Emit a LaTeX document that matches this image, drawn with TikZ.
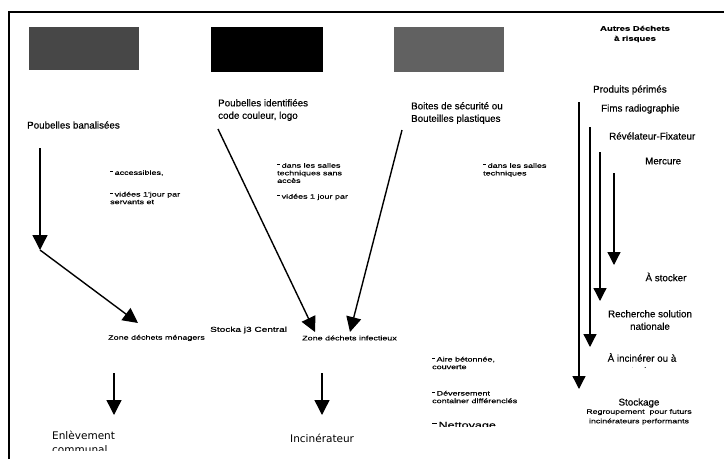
\documentclass[tikz,border=0pt]{standalone}
\usepackage{fontspec}
\usetikzlibrary{arrows.meta}
\setmainfont[FakeBold=0.4]{Liberation Sans}
\newfontfamily\widesans[FakeStretch=1.4, FakeBold=0.4]{Liberation Sans}
\newfontfamily\softsans{DejaVu Sans}
\newcommand{\dsh}{\rule[0.8ex]{0.5em}{1pt}\hspace{0.2em}}

\begin{document}
\begin{tikzpicture}[x=1pt, y=-1pt,
  every node/.style={inner sep=0pt, align=left},
  lbl/.style={font=\fontsize{9.8}{12.5}\selectfont},
  note/.style={font=\widesans\fontsize{6.4}{7.6}\selectfont},
  head/.style={font=\widesans\bfseries\fontsize{6.8}{10}\selectfont, align=center},
  fat/.style={line width=1.4pt, -{Triangle[length=15pt,width=15pt]}},
  thin/.style={line width=1.3pt, -{Triangle[length=13pt,width=13pt]}}]
  \clip (0,0) rectangle (724,459);
  \fill[white] (0,0) rectangle (724,459);
  % frame
  \draw[line width=1.2pt] (9,459) -- (9,12) -- (724,12);
  % bin pictures
  \fill[black!72] (29,27) rectangle (139,70);
  \fill[black] (211,27) rectangle (323,72);
  \fill[black!62] (394,27) rectangle (504,72);
  % bins
  \node[lbl, anchor=west] (banal) at (27,125) {Poubelles banalisées};
  \node[lbl, anchor=west] (ident) at (218,110) {Poubelles identifiées\\code couleur, logo};
  \node[lbl, anchor=west] (boites) at (411,113) {Boites de sécurité ou\\Bouteilles plastiques};
  \node[head] (autres) at (635,34) {Autres Déchets\\à risques};
  % notes
  \node[note, anchor=west] (acc) at (110,173) {\dsh accessibles,};
  \node[note, anchor=west] (vid1) at (110,198) {\dsh vidées 1'jour par\\servants et};
  \node[note, anchor=west] (tech1) at (277,173) {\dsh dans les salles\\techniques sans\\accès};
  \node[note, anchor=west] (vid2) at (277,197) {\dsh vidées 1 jour par};
  \node[note, anchor=west] (tech2) at (483,170) {\dsh dans les salles\\techniques};
  % central storage
  \node[font=\widesans\fontsize{7.2}{9}\selectfont, anchor=west] (central) at (210,330) {Stocka j3 Central};
  \node[note, anchor=west] (menag) at (108,338) {Zone déchets ménagers};
  \node[note, anchor=west] (infect) at (302,338) {Zone déchets infectieux};
  \node[note, anchor=west] (aire) at (432,363) {\dsh Aire bétonnée,\\couverte};
  \node[note, anchor=west] (dever) at (432,397) {\dsh Déversement\\container différenciés};
  \begin{scope}
    \clip (420,400) rectangle (520,426);
    \node[font=\widesans\fontsize{9}{11}\selectfont, anchor=west] (nett) at (432,426) {\dsh Nettoyage};
  \end{scope}
  % outlets
  \begin{scope}
    \clip (30,420) rectangle (200,450);
    \node[font=\softsans\fontsize{10.5}{13.5}\selectfont, anchor=north west] (enlev) at (52,431) {Enlèvement\\communal};
  \end{scope}
  \node[font=\softsans\fontsize{10.5}{13.5}\selectfont, anchor=west] (incin) at (290,438) {Incinérateur};
  % other risks
  \node[lbl, anchor=west] (perim) at (593,90) {Produits périmés};
  \node[lbl, anchor=west] (films) at (601,109) {Fims radiographie};
  \node[lbl, anchor=west] (revel) at (609,136) {Révélateur-Fixateur};
  \node[lbl, anchor=west] (merc) at (645,161) {Mercure};
  \node[lbl] (astock) at (666,277) {À stocker};
  \node[lbl, align=center] (rech) at (650,320) {Recherche solution\\nationale};
  \begin{scope}
    \clip (590,350) rectangle (710,367);
    \node[lbl, align=center, anchor=north] (ainc) at (642,353) {À incinérer ou à\\stocker};
  \end{scope}
  \node[lbl] (stock) at (639,403) {Stockage};
  \node[font=\widesans\fontsize{6.3}{9.5}\selectfont, align=center, anchor=north] (regr) at (639,409) {Regroupement\ \ pour futurs\\incinérateurs performants};
  % connectors
  \coordinate (banS) at (40,148);
  \coordinate (banK) at (40,250);
  \coordinate (menT) at (138,323);
  \coordinate (idS) at (218,129);
  \coordinate (infT1) at (315,332);
  \coordinate (boS) at (402,130);
  \coordinate (infT2) at (350,332);
  \draw[fat] (banS) -- (banK);
  \draw[fat] (banK) -- (menT);
  \draw[fat] (idS) -- (infT1);
  \draw[fat] (boS) -- (infT2);
  \coordinate (menS) at (114,373);
  \coordinate (menE) at (114,415);
  \coordinate (infS) at (322,373);
  \coordinate (infE) at (322,415);
  \draw[fat] (menS) -- (menE);
  \draw[fat] (infS) -- (infE);
  % risk columns
  \coordinate (r1) at (579,102); \coordinate (r1e) at (579,389);
  \coordinate (r2) at (590,127); \coordinate (r2e) at (590,347);
  \coordinate (r3) at (600,152); \coordinate (r3e) at (600,301);
  \coordinate (r4) at (614,173); \coordinate (r4e) at (614,265);
  \draw[thin] (r1) -- (r1e);
  \draw[thin] (r2) -- (r2e);
  \draw[thin] (r3) -- (r3e);
  \draw[thin] (r4) -- (r4e);
\end{tikzpicture}
\end{document}
